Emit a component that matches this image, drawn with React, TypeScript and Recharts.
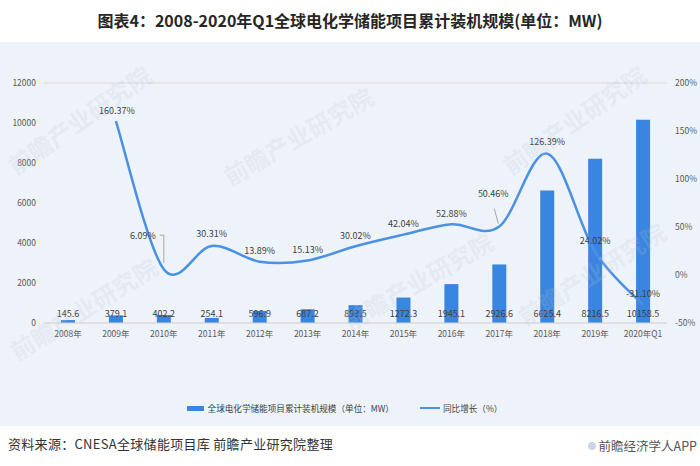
import React from 'react';
import { ComposedChart, Bar, Line, XAxis, YAxis, CartesianGrid, Legend, LabelList } from 'recharts';

const YEARS = ['2008年', '2009年', '2010年', '2011年', '2012年', '2013年', '2014年', '2015年', '2016年', '2017年', '2018年', '2019年', '2020年Q1'];
// cumulative installed capacity (MW)
const CAPACITY = [145.6, 379.1, 402.2, 254.1, 596.9, 687.2, 893.5, 1272.3, 1945.1, 2926.6, 6625.4, 8216.5, 10158.5];
// year-on-year growth (%), 2008 has none
const GROWTH = [null, 160.37, 6.09, 30.31, 13.89, 15.13, 30.02, 42.04, 52.88, 50.46, 126.39, 24.02, -31.1];
const LEFT_TICKS = [0, 2000, 4000, 6000, 8000, 10000, 12000];
const RIGHT_TICKS = [-50, 0, 50, 100, 150, 200];

// label placement tweaks for the growth line (dx, dy of label centre, leader type)
const LABEL_OFFSETS: [number, number, string][] = [
  [0, -11, ''], [1, -11, ''], [-21, -34, 'bracket'], [0, -12, ''], [0, -11, ''], [0, -11, ''], [0, -11, ''],
  [0, -11, ''], [0, -11, ''], [-6, -33, 'diag'], [0, -12, ''], [0, -11, ''], [0, -11, ''],
];

// faint watermark stamps: left, top, rotation
const WATERMARKS: [number, number, number][] = [
  [10, 150, -35], [225, 160, -30], [12, 335, -32], [345, 305, -30], [505, 150, -35], [520, 300, -32],
];

const data = YEARS.map((name, i) => ({ name, capacity: CAPACITY[i], growth: GROWTH[i] }));

const BAR_COLOR = '#3a85df';
const LINE_COLOR = '#4a90e4';
const CJK = '"Noto Sans CJK SC", "Noto Sans", sans-serif';

// Excel-like smoothed line (catmull-rom style bezier)
const excelSmooth = (context: any) => {
  let pts: number[][] = [];
  return {
    areaStart() {},
    areaEnd() {},
    lineStart() { pts = []; },
    point(x: number, y: number) { pts.push([+x, +y]); },
    lineEnd() {
      const n = pts.length;
      if (!n) return;
      context.moveTo(pts[0][0], pts[0][1]);
      for (let i = 0; i < n - 1; i++) {
        const p0 = pts[Math.max(i - 1, 0)], p1 = pts[i], p2 = pts[i + 1], p3 = pts[Math.min(i + 2, n - 1)];
        context.bezierCurveTo(
          p1[0] + (p2[0] - p0[0]) / 6, p1[1] + (p2[1] - p0[1]) / 6,
          p2[0] - (p3[0] - p1[0]) / 6, p2[1] - (p3[1] - p1[1]) / 6,
          p2[0], p2[1]
        );
      }
    },
  };
};

const BarValueLabel = (props: any) => {
  const { x, y, width, height, value } = props;
  return (
    <text x={x + width / 2} y={y + height - 6} textAnchor="middle" fontSize={9} fill="#404040" fontFamily={CJK}>
      {value}
    </text>
  );
};

const GrowthLabel = (props: any) => {
  const { x, y, value, index } = props;
  if (value == null || x == null || y == null) return null;
  const [dx, dy, leader] = LABEL_OFFSETS[index] || [0, -11, ''];
  const cx = x + dx, cy = y + dy;
  return (
    <g>
      {leader === 'bracket' && (
        <polyline points={`${cx + 17},${cy} ${x},${cy} ${x},${y - 6}`} fill="none" stroke="#a6a6a6" strokeWidth={1} />
      )}
      {leader === 'diag' && (
        <line x1={cx + 1} y1={cy + 15} x2={x - 1} y2={y - 3} stroke="#a6a6a6" strokeWidth={1} />
      )}
      <text x={cx} y={cy + 3.5} textAnchor="middle" fontSize={9} fill="#404040" fontFamily={CJK}>
        {value.toFixed(2)}%
      </text>
    </g>
  );
};

const LegendContent = (props: any) => {
  const { payload = [] } = props;
  return (
    <div style={{ display: 'flex', justifyContent: 'center', alignItems: 'center', paddingRight: 11, fontFamily: CJK, fontSize: 8.6, color: '#404040' }}>
      {payload.map((p: any, i: number) => (
        <div key={i} style={{ display: 'flex', alignItems: 'center', marginRight: i === 0 ? 26 : 0 }}>
          {p.type === 'line' ? (
            <div style={{ width: 20, height: 2, background: p.color, marginRight: 3 }} />
          ) : (
            <div style={{ width: 17, height: 5, background: p.color, marginRight: 4 }} />
          )}
          <span>{p.value}</span>
        </div>
      ))}
    </div>
  );
};

const App: React.FC = () => {
  return (
    <div style={{ position: 'absolute', left: 0, top: 0, width: 700, height: 466, background: '#fff', overflow: 'hidden' }}>
      <div style={{ position: 'absolute', left: 0, top: 42, width: 700, height: 384, background: '#eef3fa' }} />
      <div style={{ position: 'absolute', left: 0, top: 8, width: 700, textAlign: 'center', fontFamily: CJK, fontWeight: 700, fontSize: 16, color: '#262626' }}>
        图表4：2008-2020年Q1全球电化学储能项目累计装机规模(单位：MW)
      </div>
      <div style={{ position: 'absolute', left: 0, top: 0 }}>
        <ComposedChart width={700} height={466} data={data} margin={{ top: 83, right: 0, left: 0, bottom: 113 }}>
          <CartesianGrid vertical={false} stroke="#d9d9d9" />
          <XAxis
            dataKey="name"
            height={30}
            axisLine={{ stroke: '#d9d9d9' }}
            tickLine={false}
            tick={{ fontSize: 8.5, fill: '#595959', fontFamily: CJK }}
            interval={0}
          />
          <YAxis
            yAxisId="left"
            width={44}
            domain={[0, 12000]}
            ticks={LEFT_TICKS}
            axisLine={false}
            tickLine={false}
            tick={{ fontSize: 8.5, fill: '#595959', fontFamily: CJK }}
          />
          <YAxis
            yAxisId="right"
            orientation="right"
            width={33}
            domain={[-50, 200]}
            ticks={RIGHT_TICKS}
            axisLine={false}
            tickLine={false}
            tickFormatter={(v: number) => `${v}%`}
            tick={{ fontSize: 8.5, fill: '#595959', fontFamily: CJK, textAnchor: 'start' }}
          />
          <Bar yAxisId="left" dataKey="capacity" name="全球电化学储能项目累计装机规模（单位：MW）" fill={BAR_COLOR} barSize={14} isAnimationActive={false}>
            <LabelList dataKey="capacity" content={BarValueLabel} />
          </Bar>
          <Line
            yAxisId="right"
            dataKey="growth"
            name="同比增长（%）"
            type={excelSmooth as any}
            stroke={LINE_COLOR}
            strokeWidth={2.5}
            dot={false}
            activeDot={false}
            isAnimationActive={false}
          >
            <LabelList dataKey="growth" content={GrowthLabel} />
          </Line>
          <Legend
            layout="horizontal"
            verticalAlign="middle"
            align="center"
            content={LegendContent}
            wrapperStyle={{ top: 402, left: 0, width: 700 }}
          />
        </ComposedChart>
      </div>
      {WATERMARKS.map(([l, t, r], i) => (
        <div
          key={i}
          style={{
            position: 'absolute', left: l, top: t, transform: `rotate(${r}deg)`, transformOrigin: 'left center',
            fontFamily: CJK, fontWeight: 700, fontSize: 24, color: 'rgba(185,195,212,0.2)', pointerEvents: 'none', whiteSpace: 'nowrap',
          }}
        >
          前瞻产业研究院
        </div>
      ))}
      <div style={{ position: 'absolute', left: 8, top: 434, fontFamily: CJK, fontSize: 13, color: '#333', letterSpacing: 0.3 }}>
        资料来源：CNESA全球储能项目库 前瞻产业研究院整理
      </div>
      <div style={{ position: 'absolute', right: 3, top: 436, fontFamily: CJK, fontSize: 12.5, color: '#555', display: 'flex', alignItems: 'center' }}>
        <span style={{ display: 'inline-block', width: 8, height: 8, borderRadius: 4, background: '#c9d6e8', marginRight: 3 }} />
        前瞻经济学人APP
      </div>
    </div>
  );
};

export default App;
